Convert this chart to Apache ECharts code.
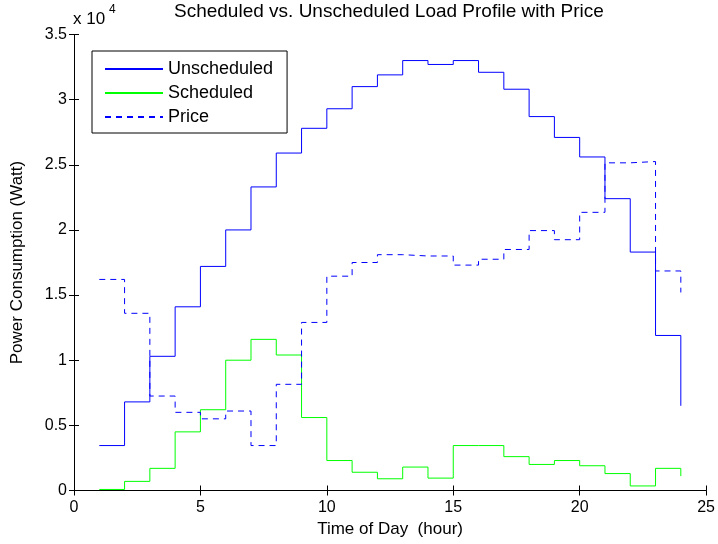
<!DOCTYPE html>
<html>
<head>
<meta charset="utf-8">
<script src="https://cdn.jsdelivr.net/npm/echarts@6/dist/echarts.min.js"></script>
<style>
html,body{margin:0;padding:0;background:#fff;}
#chart{width:718px;height:544px;}
</style>
</head>
<body>
<div id="chart"></div>
<script>
const hours = [1,2,3,4,5,6,7,8,9,10,11,12,13,14,15,16,17,18,19,20,21,22,23,24];
const unscheduled = [3450,6800,10300,14100,17200,20000,23300,25900,27800,29300,31000,31900,33000,32700,33000,32100,30800,28700,27100,25600,22400,18300,11900,6500];
const scheduled = [80,700,1700,4500,6200,10000,11600,10400,5600,2300,1400,900,1800,950,3450,3450,2600,2000,2300,1900,1300,350,1700,1100];
const price = [16200,13600,7250,6000,5500,6100,3450,8150,12900,16450,17500,18100,18000,18000,17300,17750,18500,19950,19250,21350,25150,25250,16850,15200];
const xTickLabels = ['0','5','10','15','20','25'];
const yTickLabels = ['0','0.5','1','1.5','2','2.5','3','3.5'];
const seriesNames = ['Unscheduled','Scheduled','Price'];

const FONT = '"Liberation Sans", Arial, Helvetica, sans-serif';
const pairs = arr => hours.map((h,i)=>[h, arr[i]]);

const chart = echarts.init(document.getElementById('chart'), null, {renderer:'canvas'});
const axisCommon = {
  axisLine:{show:true, lineStyle:{color:'#000', width:1}},
  axisTick:{show:true, inside:true, length:5, lineStyle:{color:'#000', width:1}},
  splitLine:{show:false}
};
chart.setOption({
  animation:false,
  backgroundColor:'#fff',
  title:{
    text:'Scheduled vs. Unscheduled Load Profile with Price',
    left:174, top:2, padding:0,
    textStyle:{fontFamily:FONT, fontSize:19, fontWeight:'normal', color:'#000'}
  },
  grid:{left:74, right:11, top:34.5, bottom:53.5, containLabel:false},
  legend:{
    orient:'vertical', left:92, top:51,
    padding:[9,14,7,12],
    itemWidth:58, itemHeight:14, itemGap:6,
    borderColor:'#000', borderWidth:1, backgroundColor:'#fff',
    itemStyle:{color:'rgba(0,0,0,0)', borderColor:'rgba(0,0,0,0)', borderWidth:0},
    textStyle:{fontFamily:FONT, fontSize:18, color:'#000', lineHeight:18},
    data:seriesNames
  },
  xAxis:[
    Object.assign({type:'value', position:'bottom', min:0, max:25, interval:5,
      name:'Time of Day  (hour)', nameLocation:'middle', nameGap:28,
      nameTextStyle:{fontFamily:FONT, fontSize:17, color:'#000'},
      axisLabel:{fontFamily:FONT, fontSize:16, color:'#000', margin:9,
        formatter:(v)=>xTickLabels[Math.round(v/5)]}}, axisCommon),
    Object.assign({type:'value', position:'top', min:0, max:25, interval:5,
      axisLabel:{show:false}}, axisCommon)
  ],
  yAxis:[
    Object.assign({type:'value', position:'left', min:0, max:35000, interval:5000,
      name:'Power Consumption (Watt)', nameLocation:'middle', nameGap:48, nameRotate:90,
      nameTextStyle:{fontFamily:FONT, fontSize:17, color:'#000'},
      axisLabel:{fontFamily:FONT, fontSize:16, color:'#000', margin:7,
        formatter:(v)=>yTickLabels[Math.round(v/5000)]}}, axisCommon),
    Object.assign({type:'value', position:'right', min:0, max:35000, interval:5000,
      axisLabel:{show:false}}, axisCommon)
  ],
  graphic:[
    {type:'text', left:73, top:11, style:{text:'x 10', font:'17px '+FONT, fill:'#000'}},
    {type:'text', left:109, top:4, style:{text:'4', font:'12px '+FONT, fill:'#000'}}
  ],
  series:[
    {name:seriesNames[0], type:'line', step:'end', data:pairs(unscheduled),
      symbol:'none', showSymbol:false, color:'#0000ff',
      lineStyle:{color:'#0000ff', width:1}},
    {name:seriesNames[1], type:'line', step:'end', data:pairs(scheduled),
      symbol:'none', showSymbol:false, color:'#00ff00',
      lineStyle:{color:'#00ff00', width:1}},
    {name:seriesNames[2], type:'line', step:'end', data:pairs(price),
      symbol:'none', showSymbol:false, color:'#0000ff',
      lineStyle:{color:'#0000ff', width:1, type:[6,5]}}
  ]
});
</script>
</body>
</html>
